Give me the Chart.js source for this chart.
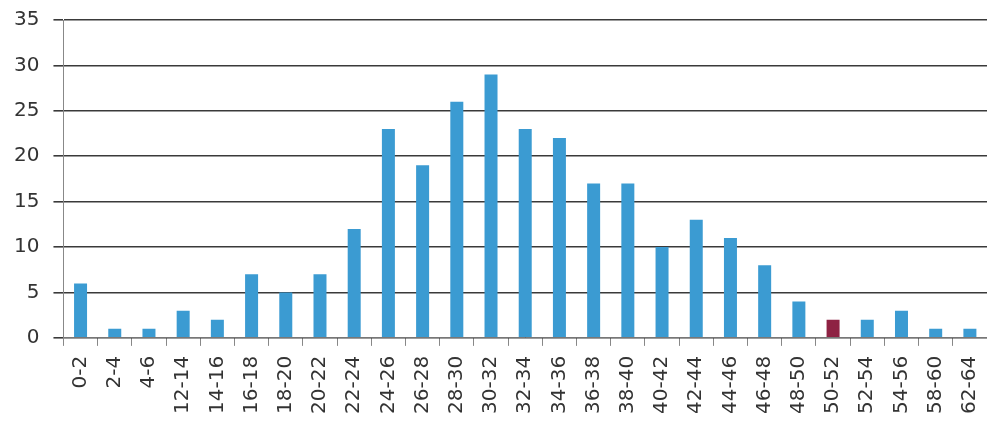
<!DOCTYPE html>
<html>
<head>
<meta charset="utf-8">
<script src="https://cdn.jsdelivr.net/npm/chart.js@4/dist/chart.umd.min.js"></script>
<style>
  html, body { margin: 0; padding: 0; background: #fff; }
  #wrap { width: 987px; height: 430px; position: relative; }
</style>
</head>
<body>
<div id="wrap"><canvas id="hist"></canvas></div>
<script>
// categories (bin ranges) and counts
const categories = ['0-2', '2-4', '4-6', '12-14', '14-16', '16-18', '18-20', '20-22', '22-24',
  '24-26', '26-28', '28-30', '30-32', '32-34', '34-36', '36-38', '38-40', '40-42', '42-44',
  '44-46', '46-48', '48-50', '50-52', '52-54', '54-56', '58-60', '62-64'];
const counts = [6, 1, 1, 3, 2, 7, 5, 7, 12, 23, 19, 26, 29, 23, 22, 17, 17, 10, 13, 11, 8, 4, 2, 2, 3, 1, 1];
const highlighted = ['50-52'];
const yTicks = [0, 5, 10, 15, 20, 25, 30, 35];

const blue = '#3b9bd2';
const red = '#8e2243';
const barColors = categories.map(c => highlighted.includes(c) ? red : blue);

const ctx = document.getElementById('hist').getContext('2d');
new Chart(ctx, {
  type: 'bar',
  data: {
    labels: categories,
    datasets: [{
      data: counts,
      backgroundColor: barColors,
      borderWidth: 0,
      categoryPercentage: 1,
      barPercentage: 0.38
    }]
  },
  options: {
    responsive: true,
    maintainAspectRatio: false,
    animation: false,
    layout: { padding: { top: 20, right: 0, left: 0, bottom: 6 } },
    plugins: {
      legend: { display: false },
      tooltip: { enabled: false }
    },
    scales: {
      x: {
        // let the plot run to the right edge like the scan
        afterFit: s => { s.paddingRight = 0; s.paddingLeft = 0; },
        grid: {
          display: true,
          drawOnChartArea: false,
          drawTicks: true,
          tickLength: 8,
          color: '#888'
        },
        border: { color: '#777', width: 1 },
        ticks: {
          color: '#333',
          font: { family: 'DejaVu Sans', size: 20 },
          maxRotation: 90,
          minRotation: 90,
          autoSkip: false,
          padding: 10
        }
      },
      y: {
        min: 0,
        max: 35,
        afterFit: s => { s.paddingTop = 0; },
        afterBuildTicks: axis => { axis.ticks = yTicks.map(v => ({ value: v })); },
        grid: {
          color: '#3a3a3a',
          lineWidth: 1.6,
          drawTicks: true,
          tickLength: 10
        },
        border: { color: '#888', width: 1 },
        ticks: {
          color: '#333',
          font: { family: 'DejaVu Sans', size: 20 },
          padding: 14
        }
      }
    }
  }
});
</script>
</body>
</html>
